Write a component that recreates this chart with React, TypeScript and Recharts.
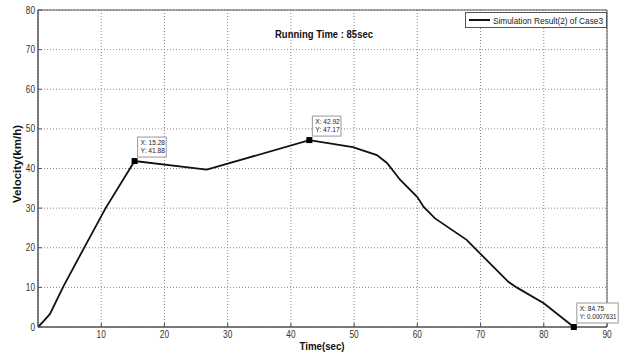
import { ComposedChart, Line, Scatter, XAxis, YAxis, CartesianGrid, ReferenceArea } from 'recharts';

const time = [0, 0.85, 1.9, 4, 7.4, 10.7, 15.28, 26.7, 42.92, 49.8, 53.6, 55.2, 57.3, 60, 61, 62.8, 67.8, 69.4, 74.4, 75.7, 80, 84.75];
const velocity = [0, 1.4, 3.3, 10.2, 20.3, 30, 41.88, 39.7, 47.17, 45.4, 43.4, 41.4, 37.1, 32.8, 30.3, 27.4, 22, 19.4, 11.4, 10, 6, 0.0007631];

const tipX = [15.28, 42.92, 84.75];
const tipY = [41.88, 47.17, 0.0007631];
const tipLabels = [
  ['X: 15.28', 'Y: 41.88'],
  ['X: 42.92', 'Y: 47.17'],
  ['X: 84.75', 'Y: 0.0007631'],
];

const xTicks = [10, 20, 30, 40, 50, 60, 70, 80, 90];
const yTicks = [0, 10, 20, 30, 40, 50, 60, 70, 80];

const seriesName = 'Simulation Result(2) of Case3';
const title = 'Running Time : 85sec';

const rows = time.map((t, i) => ({ time: t, velocity: velocity[i] }));
const tips = tipX.map((t, i) => ({ time: t, velocity: tipY[i], lines: tipLabels[i] }));

const FONT = 'Arial, "Liberation Sans", sans-serif';

function XTick({ x, y, payload }: any) {
  const s = String(payload.value);
  return (
    <text x={x} y={y + 8} textAnchor="middle" fontSize={10} fill="#333" fontFamily={FONT} textLength={s.length * 4.6} lengthAdjust="spacingAndGlyphs">
      {s}
    </text>
  );
}

function YTick({ x, y, payload }: any) {
  const s = String(payload.value);
  return (
    <text x={x} y={y + 3.5} textAnchor="end" fontSize={10} fill="#333" fontFamily={FONT} textLength={s.length * 4.6} lengthAdjust="spacingAndGlyphs">
      {s}
    </text>
  );
}

function NoTick() {
  return <g />;
}

function DataTip({ cx, cy, payload }: any) {
  if (cx == null || cy == null) return null;
  const lines: string[] = payload.lines;
  const longest = Math.max(...lines.map((l) => l.length));
  const w = longest * 3.2 + 3;
  const left = cx + 3;
  const top = cy - 24;
  return (
    <g>
      <rect x={left} y={top} width={w} height={20} fill="#fff" stroke="#999" strokeWidth={1} />
      {lines.map((l, i) => (
        <text key={i} x={left + 3} y={top + 8 + i * 8} fontSize={6.5} fill="#222" fontFamily={FONT} textLength={l.length * 3.05} lengthAdjust="spacingAndGlyphs">
          {l}
        </text>
      ))}
      <rect x={cx - 3} y={cy - 3} width={6} height={6} fill="#000" />
    </g>
  );
}

export default function App() {
  return (
    <div style={{ position: 'absolute', left: 0, top: 0, background: '#fff' }}>
      <ComposedChart width={621} height={357} margin={{ top: 10, right: 14, bottom: 0, left: 0 }}>
        <CartesianGrid stroke="#888" strokeDasharray="1 2" />
        <XAxis
          type="number"
          dataKey="time"
          domain={[0, 90]}
          ticks={xTicks}
          height={30}
          tick={<XTick />}
          tickSize={-4}
          tickMargin={7}
          tickLine={{ stroke: '#555' }}
          axisLine={{ stroke: '#555' }}
        />
        <XAxis
          xAxisId="top"
          orientation="top"
          type="number"
          domain={[0, 90]}
          ticks={xTicks}
          height={0}
          tick={<NoTick />}
          tickSize={-4}
          tickMargin={0}
          tickLine={{ stroke: '#555' }}
          axisLine={{ stroke: '#555' }}
        />
        <YAxis
          type="number"
          dataKey="velocity"
          domain={[0, 80]}
          ticks={yTicks}
          width={38}
          tick={<YTick />}
          tickSize={-4}
          tickMargin={7}
          tickLine={{ stroke: '#555' }}
          axisLine={{ stroke: '#555' }}
        />
        <YAxis
          yAxisId="right"
          orientation="right"
          type="number"
          domain={[0, 80]}
          ticks={yTicks}
          width={0}
          tick={<NoTick />}
          tickSize={-4}
          tickMargin={0}
          tickLine={{ stroke: '#555' }}
          axisLine={{ stroke: '#555' }}
        />
        <ReferenceArea x1={0} x2={90} y1={0} y2={80} fill="none" stroke="#555" strokeWidth={1} />
        <Line data={rows} dataKey="velocity" name={seriesName} type="linear" stroke="#111" strokeWidth={1.8} dot={false} isAnimationActive={false} />
        <Scatter data={tips} dataKey="velocity" shape={<DataTip />} legendType="none" isAnimationActive={false} />
        {/* legend box, MATLAB style */}
        <g>
          <rect x={465.5} y={12.5} width={141} height={15} fill="#fff" stroke="#555" />
          <line x1={469} x2={490} y1={20} y2={20} stroke="#111" strokeWidth={2} />
          <text x={493} y={23.5} fontSize={9.5} fill="#222" fontFamily={FONT} textLength={110} lengthAdjust="spacingAndGlyphs">
            {seriesName}
          </text>
        </g>
        <text x={324} y={38} textAnchor="middle" fontSize={11.5} fontWeight="bold" fill="#111" fontFamily={FONT} textLength={98} lengthAdjust="spacingAndGlyphs">
          {title}
        </text>
        <text x={322} y={350} textAnchor="middle" fontSize={11} fontWeight="bold" fill="#111" fontFamily={FONT} textLength={45} lengthAdjust="spacingAndGlyphs">
          Time(sec)
        </text>
        <text
          x={21}
          y={164}
          textAnchor="middle"
          fontSize={11}
          fontWeight="bold"
          fill="#111"
          fontFamily={FONT}
          textLength={78}
          lengthAdjust="spacingAndGlyphs"
          transform="rotate(-90 21 164)"
        >
          Velocity(km/h)
        </text>
      </ComposedChart>
    </div>
  );
}
